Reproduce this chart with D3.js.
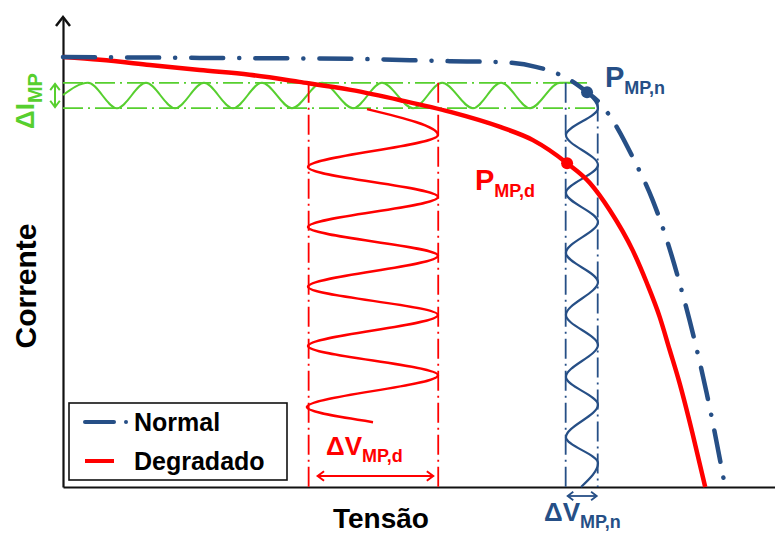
<!DOCTYPE html>
<html>
<head>
<meta charset="utf-8">
<script src="https://cdn.jsdelivr.net/npm/d3@7"></script>
<style>
  body { margin: 0; background: #fff; }
  svg { display: block; font-family: "Liberation Sans", Arial, sans-serif; font-weight: bold; }
</style>
</head>
<body>
<div id="chart"></div>
<script>

// I-V curves (schematic units: tensao 0-50, corrente 0-10)
var normalV = [0, 9.6, 20.2, 27.2, 30.7, 33.2, 34.6, 35.6, 36.8, 37.7, 39.0, 40.0, 41.4, 42.4, 43.3, 44.4, 45.2, 46.5];
var normalI = [9.15, 9.13, 9.11, 9.06, 9.04, 8.94, 8.81, 8.66, 8.40, 8.17, 7.60, 7.02, 6.11, 5.26, 4.34, 3.06, 2.00, 0];
var degradV = [0, 2.6, 6.1, 9.6, 13.1, 16.6, 20.2, 23.7, 27.2, 30.7, 33.0, 35.4, 37.0, 38.4, 40.0, 41.0, 41.9, 42.6, 43.3, 44.2, 45.1];
var degradI = [9.15, 9.09, 8.98, 8.87, 8.77, 8.62, 8.45, 8.23, 7.98, 7.66, 7.38, 6.89, 6.47, 5.89, 5.04, 4.34, 3.62, 2.92, 2.21, 1.15, 0];

// maximum power points [normal, degradado]
var pmpV = [36.8, 35.4];
var pmpI = [8.40, 6.89];

// ripple bands
var dIBand = [8.06, 8.60];
var dVdBand = [17.25, 26.35];
var dVnBand = [35.3, 37.55];

// ripple waves (turning points)
var dIWaveV = [0, 1.76, 3.79, 5.83, 7.87, 9.90, 11.94, 13.97, 16.08, 18.19, 20.37, 22.40, 24.58, 26.62, 28.79, 30.76, 32.80, 34.90, 35.96];
var dIWaveI = [8.34, 8.60, 8.06, 8.60, 8.06, 8.60, 8.06, 8.60, 8.06, 8.60, 8.06, 8.60, 8.06, 8.60, 8.06, 8.60, 8.06, 8.60, 8.60];
var dVdWaveV = [21.35, 26.33, 17.21, 26.33, 17.21, 26.33, 17.21, 26.33, 17.21, 26.33, 17.13, 21.77];
var dVdWaveI = [8.04, 7.49, 6.81, 6.17, 5.53, 4.92, 4.26, 3.66, 3.00, 2.38, 1.70, 1.38];
var dVnWaveV = [36.80, 37.57, 35.32, 37.57, 35.32, 37.57, 35.32, 37.57, 35.32, 37.57, 35.32, 37.57, 35.32, 37.57, 36.38];
var dVnWaveI = [8.40, 8.06, 7.49, 6.85, 6.26, 5.64, 4.98, 4.36, 3.66, 3.02, 2.34, 1.75, 1.06, 0.51, 0];

var seriesNames = ['Normal', 'Degradado'];

var BLUE = '#264f86', RED = '#ff0000', GREEN = '#57cf2f';
var DASHDOT = '20,5,2,5';

var width = 775, height = 534;

var svg = d3.select('#chart').append('svg')
  .attr('width', width)
  .attr('height', height);

var x = d3.scaleLinear().domain([0, 50]).range([63, 775]);
var y = d3.scaleLinear().domain([0, 10]).range([487, 17]);

function zip(vs, is) {
  return vs.map(function(v, k) { return [v, is[k]]; });
}

function drawLine(pts, curve, color, w, dash) {
  var line = d3.line()
    .x(function(d) { return x(d[0]); })
    .y(function(d) { return y(d[1]); })
    .curve(curve);
  var p = svg.append('path')
    .attr('d', line(pts))
    .attr('fill', 'none')
    .attr('stroke', color)
    .attr('stroke-width', w);
  if (dash) p.attr('stroke-dasharray', dash);
  return p;
}

function doubleArrow(x1, y1, x2, y2, color, w, size) {
  var ang = Math.atan2(y2 - y1, x2 - x1);
  svg.append('line')
    .attr('x1', x1).attr('y1', y1).attr('x2', x2).attr('y2', y2)
    .attr('stroke', color).attr('stroke-width', w);
  [[x1, y1, ang + Math.PI], [x2, y2, ang]].forEach(function(e) {
    var a1 = e[2] + 2.5, a2 = e[2] - 2.5;
    svg.append('path')
      .attr('d', 'M' + (e[0] + size * Math.cos(a1)) + ',' + (e[1] + size * Math.sin(a1)) +
        'L' + e[0] + ',' + e[1] +
        'L' + (e[0] + size * Math.cos(a2)) + ',' + (e[1] + size * Math.sin(a2)))
      .attr('fill', 'none').attr('stroke', color).attr('stroke-width', w);
  });
}

/////////// Axes ///////////

var xAxis = svg.append('g')
  .attr('transform', 'translate(0,' + y(0) + ')')
  .call(d3.axisBottom(x).tickValues([]).tickSizeOuter(0));
var yAxis = svg.append('g')
  .attr('transform', 'translate(' + x(0) + ',0)')
  .call(d3.axisLeft(y).tickValues([]).tickSizeOuter(0));
svg.selectAll('.domain').attr('stroke', '#111').attr('stroke-width', 2.2);

svg.append('path')
  .attr('d', 'M' + (x(0) - 7) + ',' + (y(10) + 9) + 'L' + x(0) + ',' + y(10) + 'L' + (x(0) + 7) + ',' + (y(10) + 9))
  .attr('fill', 'none').attr('stroke', '#111').attr('stroke-width', 2.5);

/////////// Ripple bands ///////////

drawLine([[0, dIBand[1]], [pmpV[0], dIBand[1]]], d3.curveLinear, GREEN, 1.8, DASHDOT);
drawLine([[0, dIBand[0]], [dVnBand[1], dIBand[0]]], d3.curveLinear, GREEN, 1.8, DASHDOT);
drawLine(zip(dIWaveV, dIWaveI), d3.curveMonotoneX, GREEN, 2);

drawLine([[dVdBand[0], dIBand[1]], [dVdBand[0], 0]], d3.curveLinear, RED, 1.8, DASHDOT);
drawLine([[dVdBand[1], dIBand[1]], [dVdBand[1], 0]], d3.curveLinear, RED, 1.8, DASHDOT);
drawLine(zip(dVdWaveV, dVdWaveI), d3.curveMonotoneY, RED, 2.5);

drawLine([[dVnBand[0], dIBand[1]], [dVnBand[0], 0]], d3.curveLinear, BLUE, 1.8, DASHDOT);
drawLine([[dVnBand[1], 8.2], [dVnBand[1], 0]], d3.curveLinear, BLUE, 1.8, DASHDOT);
drawLine(zip(dVnWaveV, dVnWaveI), d3.curveMonotoneY, BLUE, 2.2);

/////////// Curves ///////////

drawLine(zip(degradV, degradI), d3.curveMonotoneX, RED, 4.5);
drawLine(zip(normalV, normalI), d3.curveMonotoneX, BLUE, 4.5, '32,16,0.1,16')
  .attr('stroke-linecap', 'round');

svg.selectAll('circle.pmp')
  .data([0, 1])
  .enter()
    .append('circle')
    .attr('class', 'pmp')
    .attr('cx', function(d) { return x(pmpV[d]); })
    .attr('cy', function(d) { return y(pmpI[d]); })
    .attr('r', 6)
    .attr('fill', function(d) { return d == 0 ? BLUE : RED; });

/////////// Arrows ///////////

doubleArrow(x(-0.56), y(dIBand[1]) + 1, x(-0.56), y(dIBand[0]) - 1, GREEN, 2, 8);
doubleArrow(x(dVdBand[0]) + 9, 476, x(dVdBand[1]) - 5, 476, RED, 2, 8);
doubleArrow(x(dVnBand[0]) + 2, 496, x(dVnBand[1]) - 1, 496, BLUE, 1.8, 7);

/////////// Labels ///////////

function subLabel(px, py, main, sub, color, big, small, dy, rot) {
  var t = svg.append('text')
    .attr('fill', color)
    .attr('transform', 'translate(' + px + ',' + py + ')' + (rot ? ' rotate(-90)' : ''));
  t.append('tspan').attr('font-size', big).text(main);
  t.append('tspan').attr('font-size', small).attr('dy', dy).text(sub);
  return t;
}

subLabel(605, 87, 'P', 'MP,n', BLUE, 29, 18, 7);
subLabel(475, 190, 'P', 'MP,d', RED, 29, 18, 7);
subLabel(326, 455, '\u0394V', 'MP,d', RED, 26, 18, 7);
subLabel(544, 521, '\u0394V', 'MP,n', BLUE, 26, 18, 7);
subLabel(34, 129, '\u0394I', 'MP', GREEN, 26, 20, 8, true);

svg.append('text')
  .attr('transform', 'translate(36,286) rotate(-90)')
  .attr('text-anchor', 'middle')
  .attr('font-size', 30)
  .attr('fill', '#000')
  .text('Corrente');

svg.append('text')
  .attr('x', 381)
  .attr('y', 528)
  .attr('text-anchor', 'middle')
  .attr('font-size', 28)
  .attr('fill', '#000')
  .text('Tensão');

/////////// Legend ///////////

var legend = svg.append('g');
legend.append('rect')
  .attr('x', 69).attr('y', 403)
  .attr('width', 218).attr('height', 77)
  .attr('fill', '#fff')
  .attr('stroke', '#111')
  .attr('stroke-width', 1.6);

legend.append('line')
  .attr('x1', 85).attr('x2', 114).attr('y1', 422).attr('y2', 422)
  .attr('stroke', BLUE).attr('stroke-width', 4).attr('stroke-linecap', 'round');
legend.append('circle')
  .attr('cx', 126).attr('cy', 422).attr('r', 2).attr('fill', BLUE);
legend.append('line')
  .attr('x1', 85).attr('x2', 114).attr('y1', 461).attr('y2', 461)
  .attr('stroke', RED).attr('stroke-width', 4);

legend.selectAll('text')
  .data(seriesNames)
  .enter()
    .append('text')
    .attr('x', 134)
    .attr('y', function(d, i) { return 431 + i * 39; })
    .attr('font-size', 25)
    .attr('fill', '#000')
    .text(function(d) { return d; });

</script>
</body>
</html>
